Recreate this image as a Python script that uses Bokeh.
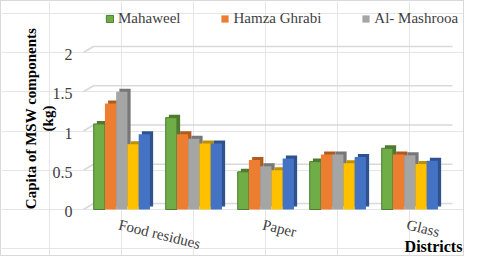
import math
from bokeh.plotting import figure
from bokeh.models import ColumnDataSource, Legend, LegendItem, Label, Range1d
from bokeh.core.properties import value
from bokeh.embed import file_html
from bokeh.resources import INLINE

# ---- data ----
tick_positions = [1, 2, 3, 4, 5]
category_labels = ["Food residues", "", "Paper", "", "Glass"]
series_names = ["Mahaweel", "Hamza Ghrabi", "Al- Mashrooa", "Series 4", "Series 5"]
mahaweel = [1.09, 1.17, 0.48, 0.61, 0.78]
hamza_ghrabi = [1.35, 0.96, 0.63, 0.70, 0.70]
al_mashrooa = [1.50, 0.90, 0.55, 0.70, 0.69]
series_4 = [0.83, 0.84, 0.50, 0.59, 0.58]
series_5 = [0.96, 0.84, 0.65, 0.67, 0.62]
y_ticks = [0, 0.5, 1, 1.5, 2]
y_tick_labels = ["0", "0.5", "1", "1.5", "2"]
y_title_lines = ["Capita of MSW components", "(kg)"]
x_title = "Districts"

all_series = [mahaweel, hamza_ghrabi, al_mashrooa, series_4, series_5]
front_colors = ["#70AD47", "#ED7D31", "#A5A5A5", "#FFC000", "#4472C4"]
side_colors = ["#4E7A31", "#B05A20", "#777777", "#BE8F00", "#2F528F"]

FONT = "Liberation Serif"
W, H = 464, 256
PX_X = 72.0      # pixels per category
PX_Y = 78.5      # pixels per unit value
X0 = 1 - 120.3 / PX_X
X1 = X0 + W / PX_X
Y0 = -(H - 208) / PX_Y
Y1 = Y0 + H / PX_Y

p = figure(width=W, height=H, x_range=Range1d(X0, X1), y_range=Range1d(Y0, Y1),
           x_axis_location=None, y_axis_location=None,
           output_backend="svg", toolbar_location=None,
           min_border_left=0, min_border_right=0, min_border_top=0, min_border_bottom=0)
p.title.visible = False
p.outline_line_color = None
p.styles = {"border": "1px solid #d9d9d9"}

# 3D-style gridlines (back wall + side wall slant)
ddx = 10 / PX_X
ddy = 6 / PX_Y
xf = X0 + 82 / PX_X
xr = X0 + 451 / PX_X
p.multi_line(xs=[[xf, xf + ddx, xr] for _ in y_ticks],
             ys=[[v, v + ddy, v + ddy] for v in y_ticks],
             line_color="#d9d9d9", line_width=1.6)

bar_w = 11.25 / PX_X
dx = 3.2 / PX_X
dy = 3.0 / PX_Y
offsets = [-2, -1, 0, 1, 2]

sources = []
for i, vals in enumerate(all_series):
    xs = [c + offsets[i] * bar_w for c in tick_positions]
    src = ColumnDataSource(dict(x=xs, top=vals,
                                xb=[x + dx for x in xs],
                                topb=[v + dy for v in vals]))
    sources.append(src)

for i, src in enumerate(sources):
    p.vbar(x="xb", top="topb", bottom=dy, width=bar_w, source=src,
           fill_color=side_colors[i], line_color=None)

renderers = []
for i, src in enumerate(sources):
    r = p.vbar(x="x", top="top", width=bar_w, source=src,
               fill_color=front_colors[i],
               line_color="#4E7A31" if i == 0 else None, line_width=1)
    renderers.append(r)

# y tick labels
p.text(x=[X0] * len(y_ticks), y=y_ticks, text=y_tick_labels, x_offset=71, y_offset=2,
       text_align="right", text_baseline="middle",
       text_font=value(FONT), text_font_size="16px", text_color="#404040")

# category labels (rotated)
p.text(x=tick_positions, y=[0] * len(tick_positions), text=category_labels,
       x_offset=-1, y_offset=7, angle=-0.24,
       text_align="left", text_baseline="top",
       text_font=value(FONT), text_font_size="15px", text_color="#404040")

# y-axis title (two lines)
for txt, xc in zip(y_title_lines, [29, 46]):
    p.add_layout(Label(x=xc, y=H - 117, x_units="screen", y_units="screen", text=txt,
                       angle=math.pi / 2, text_align="center", text_baseline="middle",
                       text_font=FONT, text_font_size="15px", text_font_style="bold",
                       text_color="#000000"))

# x-axis title
p.add_layout(Label(x=432, y=H - 245, x_units="screen", y_units="screen", text=x_title,
                   text_align="center", text_baseline="middle",
                   text_font=FONT, text_font_size="16px", text_font_style="bold",
                   text_color="#000000"))

legend = Legend(items=[LegendItem(label=series_names[i], renderers=[renderers[i]]) for i in range(3)],
                location=(104, H - 25.5), orientation="horizontal", padding=0, margin=0, spacing=40,
                glyph_width=9, glyph_height=9, label_height=15, label_standoff=4,
                label_text_font=FONT, label_text_font_size="15px", label_text_color="#404040",
                border_line_color=None, background_fill_alpha=0)
p.add_layout(legend, "center")

open("out.html", "w").write(file_html(p, INLINE))
